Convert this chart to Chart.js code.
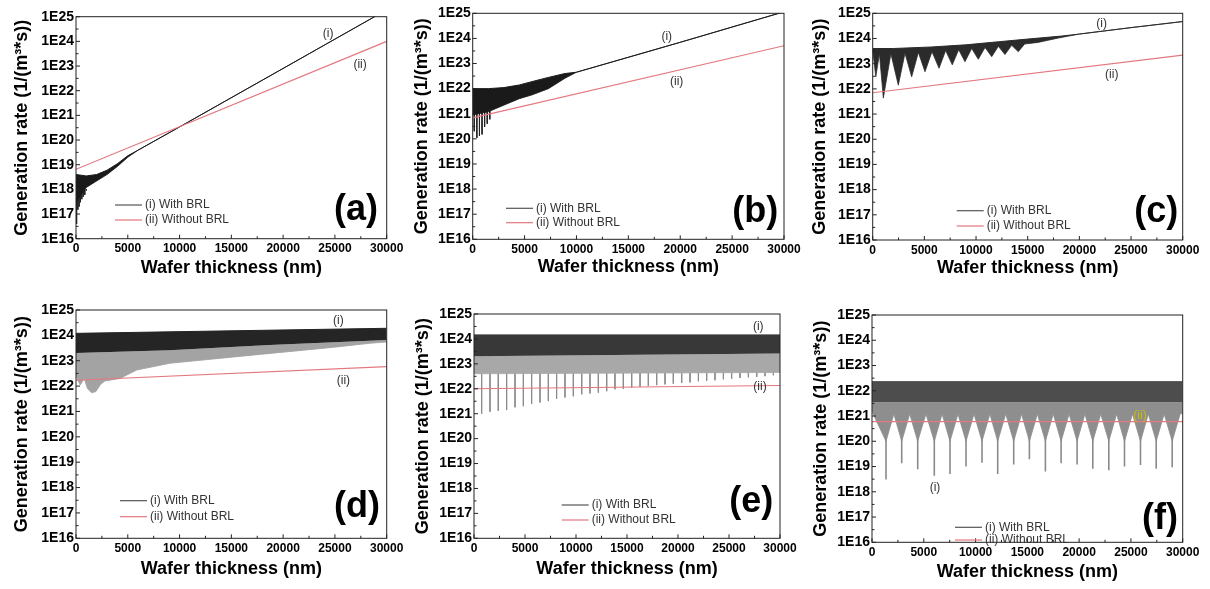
<!DOCTYPE html>
<html>
<head>
<meta charset="utf-8">
<script src="https://cdn.jsdelivr.net/npm/chart.js@4.4.0/dist/chart.umd.min.js"></script>
<style>
  html, body { margin: 0; padding: 0; background: #fff; }
  #wrap { position: relative; width: 1210px; height: 589px; overflow: hidden; }
  #wrap canvas { position: absolute; }
</style>
</head>
<body>
<div id="wrap">
  <canvas id="pa" width="430" height="290" style="left:0;top:0"></canvas>
  <canvas id="pb" width="430" height="290" style="left:398px;top:0"></canvas>
  <canvas id="pc" width="412" height="290" style="left:798px;top:0"></canvas>
  <canvas id="pd" width="430" height="299" style="left:0;top:290px"></canvas>
  <canvas id="pe" width="430" height="299" style="left:398px;top:290px"></canvas>
  <canvas id="pf" width="412" height="299" style="left:798px;top:290px"></canvas>
</div>
<script>
// shared axes
const xTicks = [0, 5000, 10000, 15000, 20000, 25000, 30000];
const xTickLabels = ['0', '5000', '10000', '15000', '20000', '25000', '30000'];
const yTicks = [1e16, 1e17, 1e18, 1e19, 1e20, 1e21, 1e22, 1e23, 1e24, 1e25];
const yTickLabels = ['1E16', '1E17', '1E18', '1E19', '1E20', '1E21', '1E22', '1E23', '1E24', '1E25'];
const seriesNames = ['(i) With BRL', '(ii) Without BRL'];

// (a) -- band of the oscillating curve (i), spikes below it, straight curve (ii)
const aTopX = [0, 1000, 2000, 3000, 4000, 5000, 6000, 10000, 20000, 30000];
const aTopY = [4e18, 3.5e18, 4e18, 6e18, 1.1e19, 2.3e19, 3.9e19, 3.4e20, 8e22, 1.9e25];
const aLowX = [0, 500, 1000, 2000, 3000, 4000, 5000, 6000, 10000, 20000, 30000];
const aLowY = [3e17, 6e17, 1.2e18, 2.2e18, 4e18, 8.5e18, 2e19, 3.9e19, 3.4e20, 8e22, 1.9e25];
const aSpikeX = [60, 180, 300, 420, 560, 700, 850, 1000];
const aSpikeY = [4e16, 1.5e17, 2e17, 3e17, 4e17, 5e17, 6e17, 9e17];
const aSpikeBase = 1e18;
const aRedX = [0, 30000];
const aRedY = [6.5e18, 1e24];

// (b)
const bTopX = [0, 1500, 3000, 4500, 5700, 7300, 8900, 10000, 20000, 30000];
const bTopY = [1e22, 1e22, 1.1e22, 1.4e22, 1.9e22, 2.8e22, 4e22, 4.5e22, 7e23, 1.15e25];
const bLowY = [9e20, 1.2e21, 2.2e21, 4e21, 5.6e21, 1e22, 2.6e22, 4.5e22, 7e23, 1.15e25];
const bSpikeX = [150, 400, 650, 900, 1150, 1400, 1650];
const bSpikeY = [2e20, 1.1e20, 1.3e20, 1.5e20, 3e20, 4e20, 6e20];
const bSpikeBase = 1.5e21;
const bRedX = [0, 30000];
const bRedY = [6.9e20, 5.1e23];

// (c)
const cTopX = [0, 2000, 5700, 9000, 12150, 15000, 18290, 20000, 25000, 30000];
const cTopY = [4e23, 4e23, 4.6e23, 5.6e23, 7.4e23, 9.5e23, 1.25e24, 1.5e24, 2.7e24, 4.7e24];
const cLowX = [0, 300, 650, 1030, 1760, 2480, 3125, 3770, 4420, 5060, 5740, 6420, 7060, 7700, 8320,
  8930, 9580, 10220, 10870, 11520, 12160, 12800, 13450, 14090, 14700, 16000, 18000, 20000, 25000, 30000];
const cLowY = [3.5e23, 3e22, 2.5e23, 4.3e21, 2.5e23, 1.4e22, 2.6e23, 3e22, 2.8e23, 4.8e22, 3e23, 6.6e22, 3.3e23, 9e22, 3.6e23,
  1.2e23, 4e23, 1.5e23, 4.4e23, 1.9e23, 4.9e23, 2.3e23, 5.4e23, 3e23, 6e23, 7e23, 1.05e24, 1.5e24, 2.7e24, 4.7e24];
const cRedX = [0, 30000];
const cRedY = [7e21, 2.2e23];

// (d)
const dTopX = [0, 30000];
const dTopY = [1.2e24, 1.9e24];
const dMidX = [0, 9000, 18700, 30000];
const dMidY = [2e23, 2.6e23, 4.2e23, 6.6e23];
const dLowX = [0, 400, 800, 1100, 1500, 1900, 2400, 2800, 4250, 5860, 9080, 12270, 15520, 18740, 21960, 25180, 28400, 30000];
const dLowY = [2.5e22, 1.1e22, 2e22, 8e21, 5.5e21, 6e21, 1.2e22, 1.6e22, 2e22, 4.3e22, 8e22, 1.07e23, 1.45e23, 1.95e23, 2.6e23, 3.5e23, 4.9e23, 5.5e23];
const dRedX = [0, 30000];
const dRedY = [1.7e22, 5.9e22];

// (e)
const eTopX = [0, 30000];
const eTopY = [1.45e24, 1.45e24];
const eMidX = [0, 30000];
const eMidY = [2e23, 2.6e23];
const eLowX = [0, 30000];
const eLowY = [4e22, 4.5e22];
const eSpikeX = [750, 1570, 2380, 3200, 4020, 4840, 5650, 6470, 7290, 8100, 8920, 9740, 10560, 11370, 12190, 13010, 13820, 14640,
  15460, 16280, 17090, 17910, 18730, 19540, 20360, 21180, 22000, 22810, 23630, 24450, 25260, 26080, 26900, 27720, 28530, 29350];
const eSpikeY = [1.0e21, 1.2e21, 1.3e21, 1.4e21, 1.8e21, 2.0e21, 2.5e21, 2.8e21, 3.2e21, 4.0e21, 4.5e21, 5.0e21, 6.0e21, 6.5e21, 7.0e21, 8.0e21, 9.5e21, 1.0e22,
  1.1e22, 1.2e22, 1.3e22, 1.4e22, 1.5e22, 1.6e22, 1.7e22, 1.8e22, 2.0e22, 2.1e22, 2.2e22, 2.4e22, 2.5e22, 2.7e22, 2.9e22, 3.0e22, 3.2e22, 3.5e22];
const eSpikeBase = 2e23;
const eRedX = [0, 30000];
const eRedY = [1e22, 1.35e22];

// (f) -- funnels: crest between dips, funnel neck, then a thin dip to the tip
const fTopX = [0, 30000];
const fTopY = [2.3e22, 2.3e22];
const fMidX = [0, 30000];
const fMidY = [3.5e21, 3.5e21];
const fLowX = [0, 1352, 2110, 2868, 3640, 4413, 5210, 6015, 6770, 7531, 8300, 9076, 9850, 10621, 11380, 12137, 12910, 13682, 14440,
  15198, 15970, 16743, 17500, 18258, 19030, 19803, 20560, 21319, 22090, 22864, 23620, 24380, 25150, 25925, 26680, 27441, 28210, 28986, 29750, 30000];
const fLowY = [1.5e21, 1e20, 1.2e21, 1e20, 1.2e21, 1e20, 1.2e21, 1e20, 1.2e21, 1e20, 1.2e21, 1e20, 1.2e21, 1e20, 1.2e21, 1e20, 1.2e21, 1e20, 1.2e21,
  1e20, 1.2e21, 1e20, 1.2e21, 1e20, 1.2e21, 1e20, 1.2e21, 1e20, 1.2e21, 1e20, 1.2e21, 1e20, 1.2e21, 1e20, 1.2e21, 1e20, 1.2e21, 1e20, 1.2e21, 1.3e21];
const fSpikeX = [1352, 2868, 4413, 6015, 7531, 9076, 10621, 12137, 13682, 15198, 16743, 18258, 19803, 21319, 22864, 24380, 25925, 27441, 28986];
const fSpikeY = [3.1e18, 1.35e19, 7.8e18, 4.3e18, 5.1e18, 1e19, 1.4e19, 5.1e18, 1.2e19, 1.95e19, 6.3e18, 1.35e19, 1.2e19, 8.1e18, 7.2e18, 1e19, 1.15e19, 8.1e18, 9.3e18];
const fSpikeBase = 1.5e20;
const fRedX = [0, 30000];
const fRedY = [6e20, 6e20];

const RED = '#e3787e';
const FONT = "'Liberation Sans', Arial, sans-serif";
Chart.defaults.font.family = FONT;
Chart.defaults.color = '#000';

function pts(xs, ys) { return xs.map((x, i) => ({ x: x, y: ys[i] })); }

// vertical strokes from the band edge down to each spike tip
function spikePts(xs, ys, base) {
  const out = [];
  xs.forEach((x, i) => { out.push({ x: x, y: base }, { x: x, y: ys[i] }, { x: x, y: null }); });
  return out;
}

// frame, inward ticks, curve tags, legend and panel letter
const annotPlugin = {
  id: 'annot',
  afterDraw(chart, args, o) {
    const { ctx, chartArea: a, scales } = chart;
    const xs = scales.x, ys = scales.y;
    ctx.save();
    ctx.strokeStyle = '#222';
    ctx.lineWidth = 1;
    ctx.strokeRect(a.left, a.top, a.right - a.left, a.bottom - a.top);
    ctx.beginPath();
    xTicks.forEach((v, i) => {
      const px = xs.getPixelForValue(v);
      ctx.moveTo(px, a.bottom); ctx.lineTo(px, a.bottom - 4);
      if (i < xTicks.length - 1) {
        const pm = xs.getPixelForValue((v + xTicks[i + 1]) / 2);
        ctx.moveTo(pm, a.bottom); ctx.lineTo(pm, a.bottom - 2.5);
      }
    });
    yTicks.forEach((v, i) => {
      const py = ys.getPixelForValue(v);
      ctx.moveTo(a.left, py); ctx.lineTo(a.left + 4, py);
      if (i < yTicks.length - 1) {
        const pm = ys.getPixelForValue(Math.sqrt(v * yTicks[i + 1]));
        ctx.moveTo(a.left, pm); ctx.lineTo(a.left + 2.5, pm);
      }
    });
    ctx.stroke();

    ctx.font = '12px ' + FONT;
    ctx.textAlign = 'center';
    ctx.textBaseline = 'middle';
    o.tags.forEach(t => {
      ctx.fillStyle = t.color || '#333';
      ctx.fillText(t.text, xs.getPixelForValue(t.x), ys.getPixelForValue(t.y));
    });

    const lx = a.left + o.legend.dx;
    [[o.legend.dy1, '#555', seriesNames[0]], [o.legend.dy2, RED, seriesNames[1]]].forEach(([dy, col, txt]) => {
      const ly = a.bottom - dy;
      ctx.strokeStyle = col;
      ctx.lineWidth = 1.2;
      ctx.beginPath(); ctx.moveTo(lx, ly); ctx.lineTo(lx + 27, ly); ctx.stroke();
      ctx.fillStyle = '#333';
      ctx.textAlign = 'left';
      ctx.fillText(txt, lx + 30, ly);
    });

    ctx.font = 'bold 36px ' + FONT;
    ctx.fillStyle = '#000';
    ctx.textAlign = 'right';
    ctx.textBaseline = 'bottom';
    ctx.fillText(o.letter, a.right - o.letterDx, a.bottom - o.letterDy);
    ctx.restore();
  }
};

function buildPanel(id, g, s, look, annot) {
  const canvas = document.getElementById(id);
  const cw = canvas.width, ch = canvas.height;
  const common = { pointRadius: 0, tension: 0, spanGaps: false };
  const ds = [];
  ds.push(Object.assign({ label: seriesNames[1], data: pts(s.red[0], s.red[1]), borderColor: RED, borderWidth: 1.2, fill: false }, common));
  ds.push(Object.assign({ label: seriesNames[0], data: pts(s.top[0], s.top[1]), borderColor: look.dark, backgroundColor: look.dark, borderWidth: 1, fill: '+1' }, common));
  if (s.mid) {
    ds.push(Object.assign({ label: 'band', data: pts(s.mid[0], s.mid[1]), borderColor: 'transparent', backgroundColor: look.light, borderWidth: 1, fill: '+1' }, common));
  }
  ds.push(Object.assign({ label: 'edge', data: pts(s.low[0], s.low[1]), borderColor: look.edge, borderWidth: 0.8, fill: false }, common));
  if (s.spikes) {
    ds.push(Object.assign({ label: 'spikes', data: spikePts(s.spikes[0], s.spikes[1], s.spikes[2]), borderColor: look.spike, borderWidth: look.spikeW || 1, fill: false }, common));
  }

  const yW = g.l - g.cx;
  const xH = g.cy + ch - g.b;
  new Chart(canvas, {
    type: 'line',
    data: { datasets: ds },
    plugins: [annotPlugin],
    options: {
      responsive: false,
      animation: false,
      events: [],
      layout: { padding: { left: 0, top: g.t - g.cy, right: g.cx + cw - g.r, bottom: 0 } },
      plugins: {
        legend: { display: false },
        tooltip: { enabled: false },
        annot: annot
      },
      scales: {
        x: {
          type: 'linear', min: 0, max: 30000,
          afterBuildTicks: sc => { sc.ticks = xTicks.map(v => ({ value: v })); },
          afterFit: sc => { sc.height = xH; },
          ticks: { font: { size: 12, weight: 'bold' }, color: '#000', padding: 3, maxRotation: 0, autoSkip: false,
                   callback: v => xTickLabels[xTicks.indexOf(v)] },
          grid: { display: false, drawTicks: false },
          border: { display: false },
          title: { display: true, text: 'Wafer thickness (nm)', color: '#000', font: { size: 18, weight: 'bold' },
                   padding: { top: 0, bottom: g.cy + ch - g.xt - 10.8 } }
        },
        y: {
          type: 'logarithmic', min: 1e16, max: 1e25,
          afterBuildTicks: sc => { sc.ticks = yTicks.map(v => ({ value: v })); },
          afterFit: sc => { sc.width = yW; },
          ticks: { font: { size: 14, weight: 'bold' }, color: '#000', padding: 2, autoSkip: false,
                   callback: v => yTickLabels[yTicks.indexOf(v)] },
          grid: { display: false, drawTicks: false },
          border: { display: false },
          title: { display: true, text: 'Generation rate (1/(m³*s))', color: '#000', font: { size: 18, weight: 'bold' },
                   padding: { top: g.yt - g.cx - 10.8, bottom: 0 } }
        }
      }
    }
  });
}

buildPanel('pa', { cx: 0, cy: 0, l: 76, t: 16.7, r: 386.7, b: 238.7, yt: 21.7, xt: 268 },
  { top: [aTopX, aTopY], low: [aLowX, aLowY], spikes: [aSpikeX, aSpikeY, aSpikeBase], red: [aRedX, aRedY] },
  { dark: '#1a1a1a', edge: '#1a1a1a', spike: '#222' },
  { tags: [{ text: '(i)', x: 24350, y: 2.1e24 }, { text: '(ii)', x: 27430, y: 1.1e23 }],
    legend: { dx: 39, dy1: 33.7, dy2: 18.7 }, letter: '(a)', letterDx: 8.7, letterDy: 10.7 });

buildPanel('pb', { cx: 398, cy: 0, l: 472.7, t: 13.3, r: 784, b: 239.3, yt: 421.7, xt: 267 },
  { top: [bTopX, bTopY], low: [bTopX, bLowY], spikes: [bSpikeX, bSpikeY, bSpikeBase], red: [bRedX, bRedY] },
  { dark: '#1a1a1a', edge: '#1a1a1a', spike: '#222' },
  { tags: [{ text: '(i)', x: 18700, y: 1.2e24 }, { text: '(ii)', x: 19660, y: 1.9e22 }],
    legend: { dx: 33.3, dy1: 31, dy2: 16.6 }, letter: '(b)', letterDx: 5.7, letterDy: 9.3 });

buildPanel('pc', { cx: 798, cy: 0, l: 872.7, t: 13.3, r: 1182.7, b: 240, yt: 820, xt: 268 },
  { top: [cTopX, cTopY], low: [cLowX, cLowY], red: [cRedX, cRedY] },
  { dark: '#2b2b2b', edge: '#333' },
  { tags: [{ text: '(i)', x: 22160, y: 3.8e24 }, { text: '(ii)', x: 23130, y: 3.5e22 }],
    legend: { dx: 84, dy1: 29.3, dy2: 14 }, letter: '(c)', letterDx: 4.4, letterDy: 10 });

buildPanel('pd', { cx: 0, cy: 290, l: 76, t: 310, r: 386.7, b: 538.3, yt: 21.7, xt: 569 },
  { top: [dTopX, dTopY], mid: [dMidX, dMidY], low: [dLowX, dLowY], red: [dRedX, dRedY] },
  { dark: '#252525', light: '#a3a3a3', edge: '#999' },
  { tags: [{ text: '(i)', x: 25340, y: 3.8e24 }, { text: '(ii)', x: 25820, y: 1.7e22 }],
    legend: { dx: 44, dy1: 37.6, dy2: 21.6 }, letter: '(d)', letterDx: 6.7, letterDy: 13 });

buildPanel('pe', { cx: 398, cy: 290, l: 474, t: 314, r: 780, b: 538.3, yt: 423.3, xt: 569 },
  { top: [eTopX, eTopY], mid: [eMidX, eMidY], low: [eLowX, eLowY], spikes: [eSpikeX, eSpikeY, eSpikeBase], red: [eRedX, eRedY] },
  { dark: '#383838', light: '#a8a8a8', edge: '#aaa', spike: '#8c8c8c' },
  { tags: [{ text: '(i)', x: 27870, y: 3.1e24 }, { text: '(ii)', x: 28040, y: 1.2e22 }],
    legend: { dx: 87.7, dy1: 33.3, dy2: 18.3 }, letter: '(e)', letterDx: 6.7, letterDy: 18 });

buildPanel('pf', { cx: 798, cy: 290, l: 872, t: 315, r: 1182.7, b: 542.3, yt: 820.7, xt: 572 },
  { top: [fTopX, fTopY], mid: [fMidX, fMidY], low: [fLowX, fLowY], spikes: [fSpikeX, fSpikeY, fSpikeBase], red: [fRedX, fRedY] },
  { dark: '#4d4d4d', light: '#8e8e8e', edge: '#8a8a8a', spike: '#8a8a8a', spikeW: 1.6 },
  { tags: [{ text: '(i)', x: 6080, y: 1.4e18 }, { text: '(ii)', x: 25880, y: 1e21, color: '#c9bd00' }],
    legend: { dx: 83, dy1: 15, dy2: 2.3 }, letter: '(f)', letterDx: 4.7, letterDy: 5.6 });
</script>
</body>
</html>
